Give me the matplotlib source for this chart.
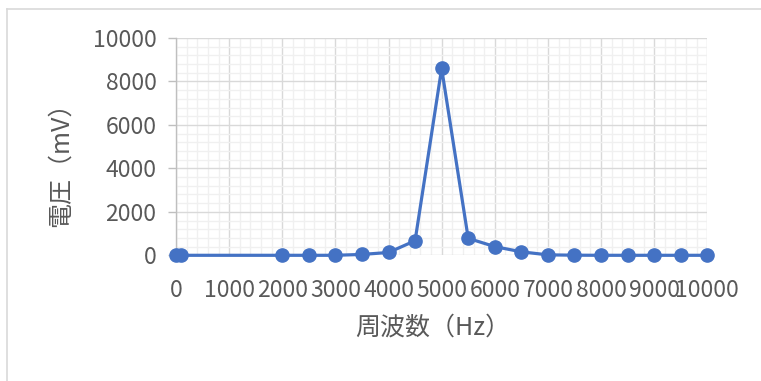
import matplotlib
matplotlib.use("Agg")
import matplotlib.pyplot as plt
from matplotlib.ticker import MultipleLocator
from matplotlib.lines import Line2D

plt.rcParams['font.family'] = ['Noto Sans CJK JP', 'DejaVu Sans']

freq = [0, 100, 2000, 2500, 3000, 3500, 4000, 4500, 5000, 5500, 6000, 6500,
        7000, 7500, 8000, 8500, 9000, 9500, 10000]
voltage = [0, 0, 0, 0, 0, 40, 130, 670, 8600, 780, 400, 160,
           20, 5, 0, 0, 0, 0, 0]
x_ticks = [0, 1000, 2000, 3000, 4000, 5000, 6000, 7000, 8000, 9000, 10000]
y_ticks = [0, 2000, 4000, 6000, 8000, 10000]
x_label = "周波数（Hz）"
y_label = "電圧（mV）"

W, H = 761, 381
fig = plt.figure(figsize=(W / 100, H / 100), dpi=100)
ax = fig.add_axes([176 / W, 1 - 255.3 / H, (707.3 - 176) / W, (255.3 - 38) / H])

blue = "#4472C4"
ax.plot(freq, voltage, color=blue, linewidth=2.3, marker="o", markersize=9.5,
        zorder=5, clip_on=False)

ax.set_xlim(0, 10000)
ax.set_ylim(0, 10000)
ax.set_xticks(x_ticks)
ax.set_yticks(y_ticks)
ax.xaxis.set_minor_locator(MultipleLocator(200))
ax.yaxis.set_minor_locator(MultipleLocator(400))
ax.grid(which="major", color="#D9D9D9", linewidth=1.0, zorder=1)
ax.grid(which="minor", color="#F0F0F0", linewidth=1.0, zorder=0)
ax.set_axisbelow(True)

for s in ["top", "right", "bottom"]:
    ax.spines[s].set_visible(False)
ax.spines["left"].set_color("#BFBFBF")
ax.spines["left"].set_linewidth(1.0)

ax.tick_params(axis="y", which="major", length=6, color="#BFBFBF", width=1.0,
               labelsize=16.5, labelcolor="#595959", pad=8)
ax.tick_params(axis="x", which="major", length=0, labelsize=16.5,
               labelcolor="#595959", pad=17)
ax.tick_params(which="minor", length=0)

fig.text(433 / W, 1 - 328 / H, x_label, ha="center", va="center",
         fontsize=18, color="#595959")
fig.text(61 / W, 1 - 158 / H, y_label, ha="center", va="center",
         fontsize=18, color="#595959", rotation=90)

# chart border
fig.add_artist(Line2D([7 / W, 7 / W], [0, 1 - 8.5 / H], transform=fig.transFigure,
                      color="#D9D9D9", linewidth=1.2))
fig.add_artist(Line2D([7 / W, 1], [1 - 8.5 / H, 1 - 8.5 / H], transform=fig.transFigure,
                      color="#D9D9D9", linewidth=1.2))

fig.savefig("out.png", dpi=100)
